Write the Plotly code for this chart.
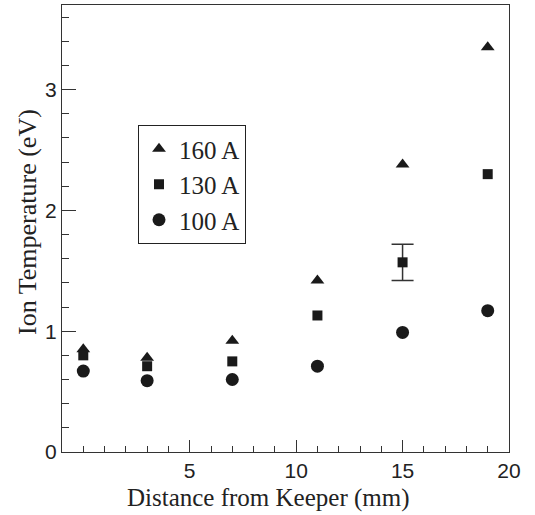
import plotly.graph_objects as go

distance = [0, 3, 7, 11, 15, 19]
t160 = [0.85, 0.78, 0.92, 1.42, 2.38, 3.35]
t130 = [0.80, 0.71, 0.75, 1.13, 1.57, 2.30]
t100 = [0.67, 0.59, 0.60, 0.71, 0.99, 1.17]
t130_err = [None, None, None, None, 0.15, None]

serif = "Liberation Serif, Times New Roman, serif"
sans = "Liberation Sans, Arial, sans-serif"

err_idx = [i for i, e in enumerate(t130_err) if e is not None]

fig = go.Figure()
fig.add_trace(go.Scatter(x=[distance[i] for i in err_idx], y=[t130[i] for i in err_idx],
                         mode="markers", showlegend=False, hoverinfo="skip",
                         marker=dict(size=1, color="rgba(0,0,0,0)"),
                         error_y=dict(type="data", array=[t130_err[i] for i in err_idx],
                                      visible=True, color="#333333", thickness=1.5, width=11)))
fig.add_trace(go.Scatter(x=distance, y=t160, mode="markers", name="160 A",
                         marker=dict(symbol="triangle-up", size=12, color="#1a1a1a")))
fig.add_trace(go.Scatter(x=distance, y=t130, mode="markers", name="130 A",
                         marker=dict(symbol="square", size=10, color="#1a1a1a")))
fig.add_trace(go.Scatter(x=distance, y=t100, mode="markers", name="100 A",
                         marker=dict(symbol="circle", size=13, color="#1a1a1a")))

axis_common = dict(showline=True, linecolor="#333333", linewidth=1, mirror=True,
                   ticks="inside", tickcolor="#333333", showgrid=False, zeroline=False,
                   tickfont=dict(family=sans, size=21, color="#222222"))

fig.update_xaxes(range=[-1, 20], tickvals=[5, 10, 15, 20], ticklen=12,
                 minor=dict(ticks="inside", dtick=1, tick0=0, ticklen=6, tickcolor="#333333"),
                 **axis_common)
fig.update_yaxes(range=[0, 3.7], tickvals=[0, 1, 2, 3], ticklen=14,
                 minor=dict(ticks="inside", dtick=0.2, tick0=0, ticklen=7, tickcolor="#333333"),
                 **axis_common)

fig.add_annotation(text="Distance from Keeper (mm)", xref="paper", yref="paper",
                   x=(268 - 62) / 447, y=-(498 - 452) / 447, showarrow=False,
                   xanchor="center", yanchor="middle",
                   font=dict(family=serif, size=25, color="#222222"))
fig.add_annotation(text="Ion Temperature (eV)", xref="paper", yref="paper",
                   x=-(62 - 27) / 447, y=(452 - 222) / 447, showarrow=False,
                   textangle=-90, xanchor="center", yanchor="middle",
                   font=dict(family=serif, size=26, color="#222222"))

fig.update_layout(
    width=535, height=515,
    margin=dict(l=62, r=26, t=5, b=63),
    paper_bgcolor="white", plot_bgcolor="white",
    showlegend=True,
    legend=dict(x=(138 - 62) / 447, y=(452 - 125) / 447, xanchor="left", yanchor="top",
                bordercolor="#222222", borderwidth=1, bgcolor="white",
                font=dict(family=serif, size=25, color="#222222")),
)

fig.write_html("out.html")
